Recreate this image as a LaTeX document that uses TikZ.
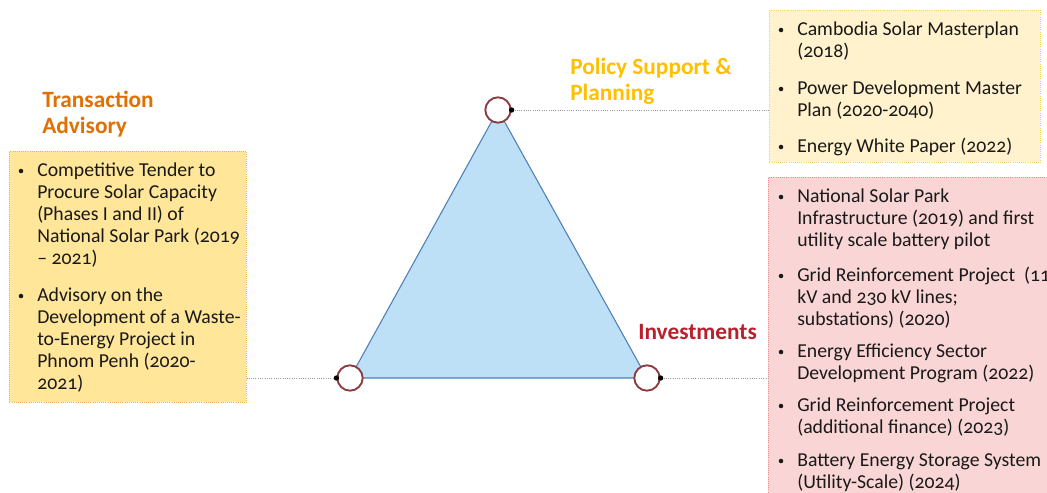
\documentclass[tikz,border=0pt]{standalone}
\usepackage{fontspec}
\setmainfont{Carlito}[Numbers=OldStyle]
\definecolor{taorange}{HTML}{E07000}
\definecolor{polgold}{HTML}{FFC000}
\definecolor{invred}{HTML}{B8202E}
\definecolor{boxgold}{HTML}{FFE699}
\definecolor{boxgoldline}{HTML}{F0B060}
\definecolor{boxcream}{HTML}{FFF2CC}
\definecolor{boxcreamline}{HTML}{F5D070}
\definecolor{boxpink}{HTML}{F9D6D5}
\definecolor{boxpinkline}{HTML}{E89090}
\definecolor{trifill}{HTML}{BDE0F7}
\definecolor{triline}{HTML}{4F7FB8}
\definecolor{ringred}{HTML}{8B3A40}
% lines stacked from the top, baseline on the first line
\newcommand{\stackedlines}[1]{\begin{tabular}[t]{@{}l@{}}#1\end{tabular}}
\begin{document}
\begin{tikzpicture}[x=0.75pt,y=-0.75pt,
  panel/.style={draw, densely dotted, line width=0.6pt, inner sep=0pt, anchor=north west},
  ring/.style={circle, draw=ringred, line width=1.4pt, fill=white, minimum size=19pt, inner sep=0pt},
  joint/.style={circle, fill=black, minimum size=4pt, inner sep=0pt},
  link/.style={draw=gray!80, densely dotted, line width=0.7pt},
  heading/.style={font=\fontsize{17.5}{19.5}\selectfont\bfseries, anchor=base west, inner sep=0pt},
  body/.style={font=\fontsize{14.8}{16.5}\selectfont, anchor=base west, inner sep=0pt, text=black!90},
  dot/.style={circle, fill=black!90, minimum size=3.4pt, inner sep=0pt}
]
\clip (0,0) rectangle (1047,493);
\fill[white] (0,0) rectangle (1047,493);

% panels
\node[panel, draw=boxgoldline, fill=boxgold, minimum width=177.75pt, minimum height=188.25pt] (left) at (9,151) {};
\node[panel, draw=boxcreamline, fill=boxcream, minimum width=203.25pt, minimum height=114pt] (policy) at (769,10) {};
\node[panel, draw=boxpinkline, fill=boxpink, minimum width=222pt, minimum height=250pt] (invest) at (768,177) {};

% triangle with its three corner rings
\coordinate (apex) at (498,110);
\coordinate (bl) at (350,378);
\coordinate (br) at (647,378);
\filldraw[fill=trifill, draw=triline, line width=0.8pt] (apex) -- (bl) -- (br) -- cycle;
\node[ring] (rtop) at (apex) {};
\node[ring] (rleft) at (bl) {};
\node[ring] (rright) at (br) {};

% connectors
\node[joint] (jtop) at (rtop.east) {};
\node[joint] (jleft) at (rleft.west) {};
\node[joint] (jright) at (rright.east) {};
\draw[link] (jtop) -- (jtop -| policy.west);
\draw[link] (jleft) -- (jleft -| left.east);
\draw[link] (jright) -- (jright -| invest.west);

% headings
\node[heading, text=taorange] (hta) at (42,107) {\stackedlines{Transaction\\[0pt]Advisory}};
\node[heading, text=polgold] (hpol) at (570,74) {\stackedlines{Policy Support \&\\Planning}};
\node[heading, text=invred] (hinv) at (638,339) {Investments};

% left panel items
\node[dot] (b1) at (21,171) {};
\node[body] (t1) at (37,176) {\stackedlines{Competitive Tender to\\Procure Solar Capacity\\(Phases I and II) of\\National Solar Park (2019\\– 2021)}};
\node[dot] (b2) at (21,296) {};
\node[body] (t2) at (37,301) {\stackedlines{Advisory on the\\Development of a Waste-\\to-Energy Project in\\Phnom Penh (2020-\\2021)}};

% policy panel items
\node[dot] (b3) at (781,30) {};
\node[body] (t3) at (797,35) {\stackedlines{Cambodia Solar Masterplan\\(2018)}};
\node[dot] (b4) at (781,89) {};
\node[body] (t4) at (797,94) {\stackedlines{Power Development Master\\Plan (2020-2040)}};
\node[dot] (b5) at (781,147) {};
\node[body] (t5) at (797,152) {Energy White Paper (2022)};

% investment panel items
\node[dot] (b6) at (781,197) {};
\node[body] (t6) at (797,202) {\stackedlines{National Solar Park\\Infrastructure (2019) and first\\utility scale battery pilot}};
\node[dot] (b7) at (781,276) {};
\node[body] (t7) at (797,281) {\stackedlines{Grid Reinforcement Project~ (115\\kV and 230 kV lines;\\substations) (2020)}};
\node[dot] (b8) at (781,352) {};
\node[body] (t8) at (797,357) {\stackedlines{Energy Efficiency Sector\\Development Program (2022)}};
\node[dot] (b9) at (781,406) {};
\node[body] (t9) at (797,411) {\stackedlines{Grid Reinforcement Project\\(additional finance) (2023)}};
\node[dot] (b10) at (781,461) {};
\node[body] (t10) at (797,466) {\stackedlines{Battery Energy Storage System\\(Utility-Scale) (2024)}};
\end{tikzpicture}
\end{document}
